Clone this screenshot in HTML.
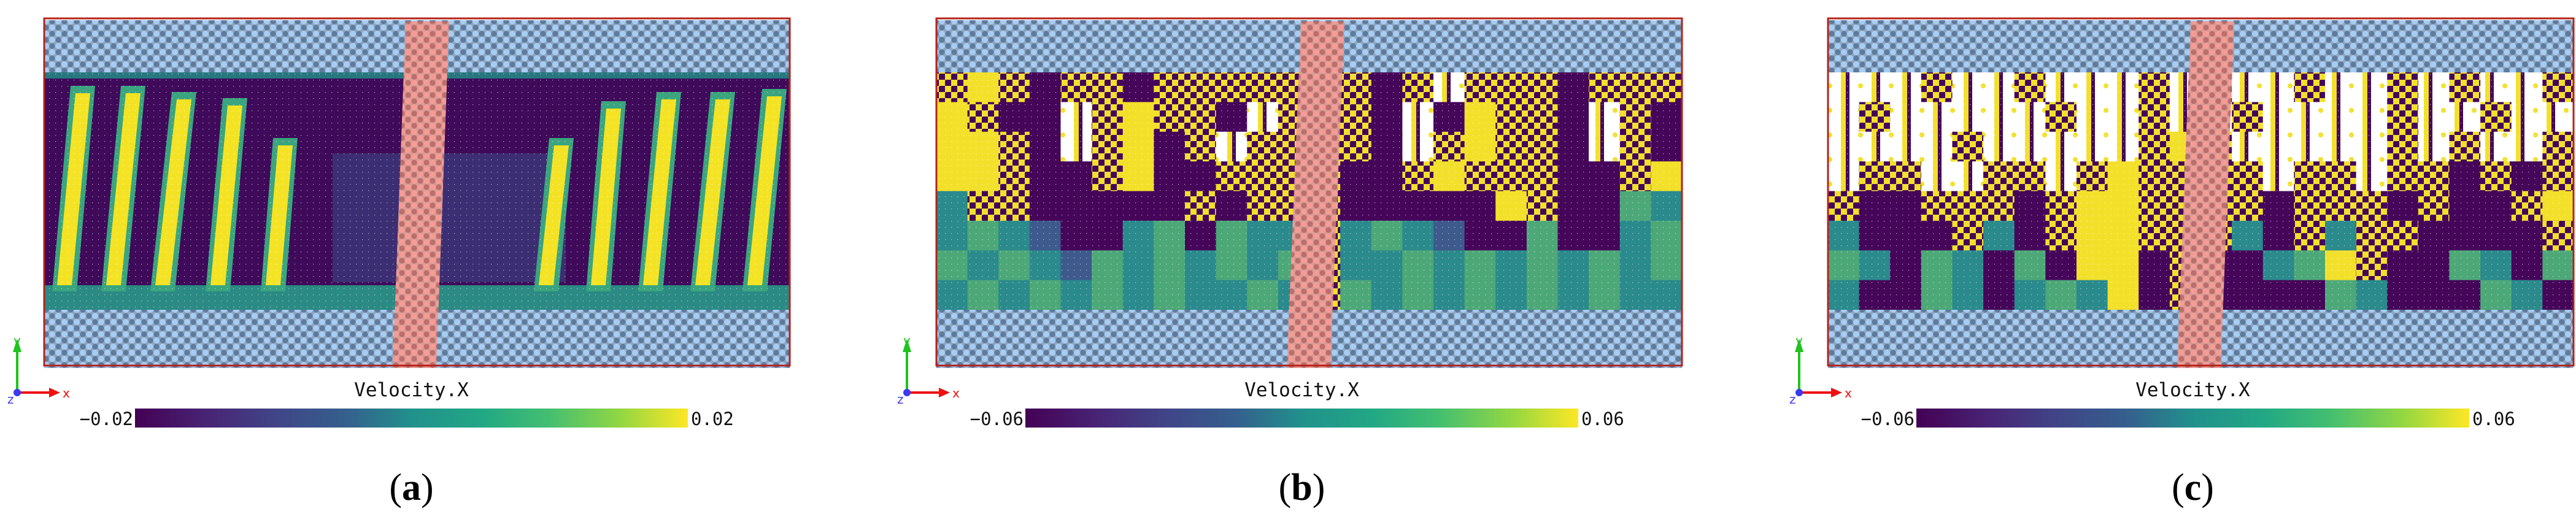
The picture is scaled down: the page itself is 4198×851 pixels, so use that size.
<!DOCTYPE html>
<html><head><meta charset="utf-8"><style>
html,body{margin:0;padding:0;background:#fff;}
svg{display:block;}
</style></head><body>
<svg id="fig" width="4198" height="851" viewBox="0 0 4198 851" xmlns="http://www.w3.org/2000/svg">
<defs>
<pattern id="slab" width="20" height="20" patternUnits="userSpaceOnUse">
<rect width="20" height="20" fill="#8ea6c2"/>
<circle cx="5" cy="5" r="5" fill="#a6cdf4"/><circle cx="15" cy="15" r="5" fill="#a6cdf4"/>
<circle cx="15" cy="5" r="4.6" fill="#5f7b99"/><circle cx="5" cy="15" r="4.6" fill="#5f7b99"/>
</pattern>
<pattern id="pink" width="20" height="20" patternUnits="userSpaceOnUse">
<rect width="20" height="20" fill="#d89a95"/>
<circle cx="5" cy="5" r="5" fill="#f49c95"/><circle cx="15" cy="15" r="5" fill="#f49c95"/>
<circle cx="15" cy="5" r="4.6" fill="#b96f6b"/><circle cx="5" cy="15" r="4.6" fill="#b96f6b"/>
</pattern>
<pattern id="mix" width="20" height="20" patternUnits="userSpaceOnUse">
<rect width="20" height="20" fill="#45065a"/>
<rect x="0" y="0" width="10" height="10" fill="#f2e02a"/>
<rect x="10" y="10" width="10" height="10" fill="#f2e02a"/>
</pattern>
<pattern id="wmix" width="50" height="40" patternUnits="userSpaceOnUse">
<rect width="50" height="40" fill="#ffffff"/>
<rect x="0" y="0" width="8" height="40" fill="#f2e02a"/>
<rect x="8" y="0" width="6" height="40" fill="#45065a"/>
<circle cx="32" cy="20" r="4" fill="#f2e02a"/>
</pattern>
<pattern id="gaps" width="10" height="10" patternUnits="userSpaceOnUse">
<circle cx="0" cy="0" r="1.4" fill="#fff"/>
</pattern>
<linearGradient id="viridis" x1="0" x2="1" y1="0" y2="0">
<stop offset="0" stop-color="#440154"/><stop offset="0.13" stop-color="#482475"/>
<stop offset="0.25" stop-color="#414487"/><stop offset="0.38" stop-color="#355f8d"/>
<stop offset="0.5" stop-color="#21918c"/><stop offset="0.63" stop-color="#22a884"/>
<stop offset="0.75" stop-color="#44bf70"/><stop offset="0.88" stop-color="#93d741"/>
<stop offset="1" stop-color="#fde725"/>
</linearGradient>
</defs>
</svg>
<script>
// ---- data ----
const panelLabels = ['(a)', '(b)', '(c)'];
const cbarMin = ['\u22120.02', '\u22120.06', '\u22120.06'];
const cbarMax = ['0.02', '0.06', '0.06'];
const aStripeTop = [63, 145, 228, 311, 393, 843, 928, 1018, 1106, 1190];
const aStripeBot = [33, 113, 193, 283, 373, 818, 903, 988, 1073, 1158];
const aStripeStartY = [140, 140, 150, 160, 225, 225, 165, 150, 150, 145];
const bGrid = [
 "mympmmpmmmmmmmpmwmmmpmmm",
 "ymppwmymmpwmmmpwpymmpwmp",
 "yympwmypmwmmmmpwmymmpwmp",
 "yymppmyppmmmmppmymmmppmy",
 "tmmpppppmpmmmpppppymppgt",
 "tgtbpptgpgttmtgtbppgpptg",
 "gtgtbgtgtgtgmttgtgtgtgtg",
 "tgtgtgtgttgtmgtgtgtgtgtt"];
const cGrid = [
 "wwwmwwmwwwmwmwwmwwmwmwwm",
 "wmwwwwwmwwmwwmwwwwmwwmww",
 "wwwwmwwwwwmymwwwwwmwmwwm",
 "wmmwwmmwmymmmmwmmwmmpmpm",
 "mppmmmpmyymmmmpmmmpmppmy",
 "tpppmtpmyymmmtpmtmmppppm",
 "gtpgtpgpyypmpptgymppgtpg",
 "tppgtptgtypmppppgtpppgtp"];
const cellColor = {p:'#45065a', y:'#f2e02a', m:'url(#mix)', t:'#2a8a8c', g:'#4da878', b:'#3e5a8c', w:'url(#wmix)'};

// ---- layout ----
const boxL = [72, 1526, 2979], boxW = 1215;
const boxT = 30, boxB = 596, slabTopB = 118, slabBotT = 505;
const bandTop = [661, 2120, 3570], bandBot = [640, 2097, 3548], bandW = 71;
const cbL = [220, 1671, 3123], cbW = 901, cbT = 666, cbH = 31;
const triX = [28, 1478, 2932];
const NS = 'http://www.w3.org/2000/svg';
const svg = document.getElementById('fig');
function mk(tag, attrs, parent) {
  const e = document.createElementNS(NS, tag);
  for (const k in attrs) e.setAttribute(k, attrs[k]);
  (parent || svg).appendChild(e); return e;
}
for (let i = 0; i < 3; i++) {
  const g = mk('g', {});
  
  
  const L = boxL[i];
  const midH = slabBotT - slabTopB;
  const mid = mk('g', {}, g);
  
  
  if (i === 0) {
    mk('rect', {x: L, y: slabTopB, width: boxW, height: midH, fill: '#3f0a5a'}, mid);
    mk('rect', {x: L + 470, y: 250, width: 380, height: 210, fill: '#3b4d86', opacity: 0.55}, mid);
    mk('rect', {x: L, y: slabTopB, width: boxW, height: 10, fill: '#26787e'}, mid);
    mk('rect', {x: L, y: 465, width: boxW, height: 40, fill: '#2b8a84'}, mid);
    for (let k = 0; k < aStripeTop.length; k++) {
      const xt = L + aStripeTop[k], xb = L + aStripeBot[k], yt = aStripeStartY[k];
      const s = mk('polygon', {points: `${xt-20},${yt} ${xt+20},${yt} ${xb+20},475 ${xb-20},475`, fill: '#3aa57e'}, mid);
      
      
      mk('polygon', {points: `${xt-12},${yt+12} ${xt+12},${yt+12} ${xb+12},465 ${xb-12},465`, fill: '#f4e324'}, mid);
    }
  } else {
    const grid = i === 1 ? bGrid : cGrid;
    const rows = grid.length, cols = grid[0].length;
    const cw = boxW / cols, ch = midH / rows;
    for (let r = 0; r < rows; r++) for (let c = 0; c < cols; c++) {
      mk('rect', {x: L + c * cw, y: slabTopB + r * ch, width: cw + 0.5, height: ch + 0.5, fill: cellColor[grid[r][c]]}, mid);
    }
  }
  mk('rect', {x: L, y: slabTopB, width: boxW, height: midH, fill: 'url(#gaps)', opacity: 0.6}, mid);
  const s1 = mk('rect', {x: L, y: boxT + 3, width: boxW, height: slabTopB - boxT - 3, fill: 'url(#slab)'}, g);
  
  
  const s2 = mk('rect', {x: L, y: slabBotT, width: boxW, height: boxB - slabBotT + 4, fill: 'url(#slab)'}, g);
  
  
  const band = mk('polygon', {points: `${bandTop[i]},${boxT+5} ${bandTop[i]+bandW},${boxT+5} ${bandBot[i]+bandW},${boxB+4} ${bandBot[i]},${boxB+4}`, fill: 'url(#pink)'}, g);
  
  
  const bx = mk('rect', {x: L, y: boxT, width: boxW, height: boxB - boxT, fill: 'none', stroke: '#b3231c', 'stroke-width': 3}, g);
  
  
  const tx = triX[i], ty = 640;
  const tri = mk('g', {}, g);
  
  
  mk('line', {x1: tx, y1: ty, x2: tx, y2: 570, stroke: '#1fc41f', 'stroke-width': 4}, tri);
  mk('polygon', {points: `${tx-7},574 ${tx+7},574 ${tx},552`, fill: '#1fc41f'}, tri);
  mk('line', {x1: tx, y1: ty, x2: tx + 55, y2: ty, stroke: '#f01010', 'stroke-width': 4}, tri);
  mk('polygon', {points: `${tx+52},${ty-8} ${tx+52},${ty+8} ${tx+70},${ty}`, fill: '#f01010'}, tri);
  mk('circle', {cx: tx, cy: ty, r: 6, fill: '#3a3af0'}, tri);
  const tl = [['y', tx - 6, 562, '#1fc41f'], ['x', tx + 74, 648, '#f01010'], ['z', tx - 16, 658, '#4040f0']];
  for (const t of tl) { const e = mk('text', {x: t[1], y: t[2], fill: t[3], 'font-family': 'DejaVu Sans, sans-serif', 'font-size': 20}, tri); e.textContent = t[0]; }
  const cx = cbL[i] + cbW / 2;
  const title = mk('text', {x: cx, y: 646, 'text-anchor': 'middle', 'font-family': 'DejaVu Sans Mono, Liberation Mono, monospace', 'font-size': 31, fill: '#111'}, g);
  title.textContent = 'Velocity.X';
  
  
  const cb = mk('rect', {x: cbL[i], y: cbT, width: cbW, height: cbH, fill: 'url(#viridis)'}, g);
  
  
  const t1 = mk('text', {x: cbL[i] - 3, y: cbT + 27, 'text-anchor': 'end', 'font-family': 'DejaVu Sans Mono, Liberation Mono, monospace', 'font-size': 29, fill: '#111'}, g);
  t1.textContent = cbarMin[i];
  
  
  const t2 = mk('text', {x: cbL[i] + cbW + 5, y: cbT + 27, 'font-family': 'DejaVu Sans Mono, Liberation Mono, monospace', 'font-size': 29, fill: '#111'}, g);
  t2.textContent = cbarMax[i];
  
  
  const pl = mk('text', {x: cx, y: 815, 'text-anchor': 'middle', 'font-family': 'Liberation Serif, serif', 'font-size': 62, fill: '#000'}, g);
  pl.innerHTML = '(<tspan font-weight="bold">' + panelLabels[i].slice(1, -1) + '</tspan>)';
  
  
}
</script>
</body></html>
